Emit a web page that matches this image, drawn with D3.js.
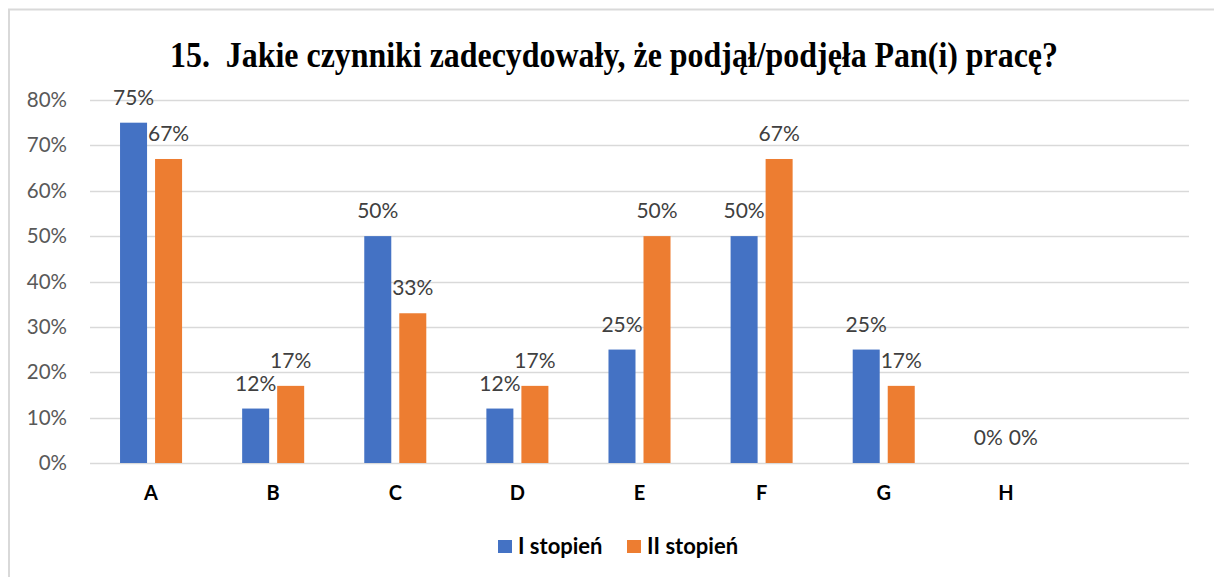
<!DOCTYPE html>
<html>
<head>
<meta charset="utf-8">
<script src="https://cdn.jsdelivr.net/npm/d3@7"></script>
<style>
  body { margin: 0; background: #fff; }
  svg { display: block; }
</style>
</head>
<body>
<div id="chart"></div>
<script>

// data
var categories = ["A", "B", "C", "D", "E", "F", "G", "H"];
var seriesNames = ["I stopień", "II stopień"];
var stopien1 = [75, 12, 50, 12, 25, 50, 25, 0];
var stopien2 = [67, 17, 33, 17, 50, 67, 17, 0];
var yTicks = [0, 10, 20, 30, 40, 50, 60, 70, 80];
var title = "15.  Jakie czynniki zadecydowały, że podjął/podjęła Pan(i) pracę?";

var colors = ["#4472c4", "#ed7d31"];

var width = 1214;
var height = 577;

var svg = d3.select("#chart")
	.append("svg")
	.attr("width", width)
	.attr("height", height);

// outer frame of the chart (only left and top edges are visible)
svg.append("rect")
	.attr("x", 9)
	.attr("y", 9.5)
	.attr("width", 1220)
	.attr("height", 600)
	.attr("fill", "none")
	.attr("stroke", "#d9d9d9")
	.attr("stroke-width", 2);

// plot area
var plot = {left: 90, right: 1189, top: 100, bottom: 463};

// one empty slot after H, as in the original
var xScale = d3.scaleBand()
	.domain(categories.concat([" "]))
	.range([plot.left, plot.right])
	.padding(0);

var groupWidth = xScale.bandwidth() * 0.508;

var xInner = d3.scaleBand()
	.domain(seriesNames)
	.range([0, groupWidth])
	.paddingInner(0.2286)
	.paddingOuter(0);

var yScale = d3.scaleLinear()
	.domain([0, 80])
	.range([plot.bottom, plot.top]);

// gridlines
svg.append("g")
	.selectAll("line")
	.data(yTicks)
	.enter()
	.append("line")
	.attr("x1", plot.left)
	.attr("x2", plot.right)
	.attr("y1", function(d) { return Math.round(yScale(d)) + 0.5; })
	.attr("y2", function(d) { return Math.round(yScale(d)) + 0.5; })
	.attr("stroke", "#d9d9d9")
	.attr("stroke-width", 1.3);

// y axis labels
var yAxis = svg.append("g")
	.attr("transform", "translate(" + (plot.left - 23) + ",0)")
	.call(d3.axisLeft(yScale)
		.tickValues(yTicks)
		.tickSize(0)
		.tickPadding(0)
		.tickFormat(function(d) { return d + "%"; }));
yAxis.select(".domain").remove();
yAxis.selectAll("text")
	.attr("fill", "#595959")
	.style("font-family", "Lato, 'Open Sans', sans-serif")
	.style("font-size", "20.5px");

// x axis labels
var xAxis = svg.append("g")
	.attr("transform", "translate(0," + plot.bottom + ")")
	.call(d3.axisBottom(xScale).tickSize(0).tickPadding(23));
xAxis.select(".domain").remove();
xAxis.selectAll("text")
	.attr("fill", "#000")
	.style("font-family", "Lato, 'Open Sans', sans-serif")
	.style("font-weight", "bold")
	.style("font-size", "20px");

// bars
var rows = categories.map(function(c, i) {
	return {cat: c, values: [stopien1[i], stopien2[i]]};
});

var groups = svg.append("g")
	.selectAll("g")
	.data(rows)
	.enter()
	.append("g")
	.attr("transform", function(d) {
		return "translate(" + (xScale(d.cat) + (xScale.bandwidth() - groupWidth) / 2) + ",0)";
	});

groups.selectAll("rect")
	.data(function(d) { return d.values.map(function(v, j) { return {name: seriesNames[j], v: v, j: j}; }); })
	.enter()
	.append("rect")
	.attr("x", function(d) { return xInner(d.name); })
	.attr("width", xInner.bandwidth())
	.attr("y", function(d) { return yScale(d.v); })
	.attr("height", function(d) { return plot.bottom - yScale(d.v); })
	.attr("fill", function(d) { return colors[d.j]; });

// data labels
groups.selectAll("text")
	.data(function(d) { return d.values.map(function(v, j) { return {name: seriesNames[j], v: v, j: j}; }); })
	.enter()
	.append("text")
	.attr("x", function(d) { return xInner(d.name) + xInner.bandwidth() / 2; })
	.attr("y", function(d) { return yScale(d.v) - 18; })
	.attr("text-anchor", "middle")
	.attr("fill", "#404040")
	.style("font-family", "Lato, 'Open Sans', sans-serif")
	.style("font-size", "21px")
	.text(function(d) { return d.v + "%"; });

// title
svg.append("text")
	.attr("x", 170)
	.attr("y", 67)
	.attr("textLength", 888)
	.attr("lengthAdjust", "spacingAndGlyphs")
	.style("font-family", "'Liberation Serif', 'Times New Roman', serif")
	.style("font-weight", "bold")
	.style("font-size", "36px")
	.attr("fill", "#000")
	.attr("xml:space", "preserve")
	.text(title);

// legend
var legendX = [498, 627];
var legend = svg.append("g")
	.selectAll("g")
	.data(seriesNames)
	.enter()
	.append("g")
	.attr("transform", function(d, i) { return "translate(" + legendX[i] + ",540)"; });

legend.append("rect")
	.attr("width", 14)
	.attr("height", 13)
	.attr("fill", function(d, i) { return colors[i]; });

legend.append("text")
	.attr("x", 20)
	.attr("y", 14)
	.attr("fill", "#000")
	.style("font-family", "Lato, 'Open Sans', sans-serif")
	.style("font-weight", "bold")
	.style("font-size", "22px")
	.text(function(d) { return d; });

</script>
</body>
</html>
